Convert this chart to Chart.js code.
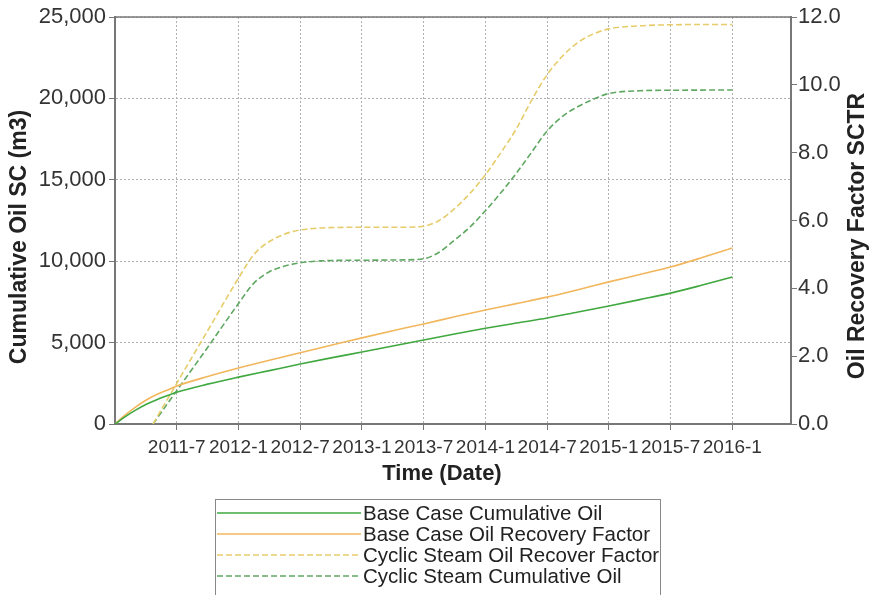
<!DOCTYPE html>
<html>
<head>
<meta charset="utf-8">
<script src="https://cdn.jsdelivr.net/npm/chart.js@4"></script>
<style>
html, body { margin: 0; padding: 0; background: #fff; }
#wrap { position: relative; width: 872px; height: 595px; }
</style>
</head>
<body>
<div id="wrap"><canvas id="c" width="872" height="595"></canvas></div>
<script>
// months counted from 2011-1
var xTickMonths = [6, 12, 18, 24, 30, 36, 42, 48, 54, 60];
var xTickLabels = ['2011-7', '2012-1', '2012-7', '2013-1', '2013-7', '2014-1', '2014-7', '2015-1', '2015-7', '2016-1'];

var baseMonths = [0, 1, 2, 3, 4, 5, 6, 9, 12, 15, 18, 21, 24, 27, 30, 33, 36, 39, 42, 45, 48, 51, 54, 57, 60];
var baseCumOil = [0, 450, 850, 1200, 1480, 1720, 1950, 2450, 2880, 3280, 3680, 4060, 4420, 4790, 5160, 5530, 5880, 6200, 6510, 6880, 7250, 7640, 8040, 8520, 9030];
var baseRecFactor = [0, 0.27, 0.5, 0.7, 0.86, 0.99, 1.12, 1.4, 1.65, 1.88, 2.1, 2.32, 2.54, 2.75, 2.95, 3.16, 3.36, 3.55, 3.74, 3.96, 4.19, 4.41, 4.63, 4.9, 5.19];

var steamMonths = [3.7, 6, 9, 12, 13.5, 15, 16.5, 18, 20, 24, 28, 30, 31.5, 33, 34.5, 36, 37.5, 39, 40.5, 42, 43.5, 45, 46.5, 48, 51, 54, 57, 60];
var steamCumOil = [0, 2050, 4700, 7400, 8650, 9350, 9700, 9900, 10020, 10060, 10080, 10150, 10550, 11300, 12100, 13100, 14200, 15400, 16700, 18000, 18900, 19500, 19950, 20300, 20470, 20500, 20510, 20520];
var steamRecFactor = [0, 1.2, 2.75, 4.3, 5.0, 5.38, 5.6, 5.72, 5.78, 5.8, 5.8, 5.83, 6.0, 6.35, 6.8, 7.35, 8.0, 8.7, 9.55, 10.3, 10.85, 11.25, 11.5, 11.65, 11.74, 11.77, 11.78, 11.78];

var seriesNames = ['Base Case Cumulative Oil', 'Base Case Oil Recovery Factor', 'Cyclic Steam Oil Recover Factor', 'Cyclic Steam Cumulative Oil'];

var FONT = "'Liberation Sans', Arial, sans-serif";

function pts(xs, ys) {
    return xs.map(function (m, i) { return { x: m, y: ys[i] }; });
}

var extras = {
    id: 'extras',
    afterDraw: function (chart) {
        var ctx = chart.ctx;
        var a = chart.chartArea;
        ctx.save();
        // top frame line
        ctx.strokeStyle = '#777';
        ctx.lineWidth = 1.5;
        ctx.beginPath();
        ctx.moveTo(a.left, a.top);
        ctx.lineTo(a.right, a.top);
        ctx.stroke();

        // axis titles
        ctx.fillStyle = '#222';
        ctx.font = 'bold 23px ' + FONT;
        ctx.textAlign = 'center';
        ctx.textBaseline = 'middle';
        ctx.save();
        ctx.translate(20, 237);
        ctx.rotate(-Math.PI / 2);
        ctx.fillText('Cumulative Oil SC (m3)', 0, 0);
        ctx.restore();
        ctx.save();
        ctx.translate(858, 236);
        ctx.rotate(-Math.PI / 2);
        ctx.fillText('Oil Recovery Factor SCTR', 0, 0);
        ctx.restore();
        ctx.font = 'bold 22px ' + FONT;
        ctx.fillText('Time (Date)', 442, 474);

        // legend box
        ctx.strokeStyle = '#888';
        ctx.lineWidth = 1;
        ctx.strokeRect(215.5, 499.5, 445, 130);
        ctx.font = '20.5px ' + FONT;
        ctx.textAlign = 'left';
        chart.data.datasets.forEach(function (ds, i) {
            var y = 513 + i * 21;
            ctx.strokeStyle = ds.borderColor;
            ctx.lineWidth = 1.5;
            ctx.setLineDash(ds.borderDash || []);
            ctx.beginPath();
            ctx.moveTo(217, y);
            ctx.lineTo(361, y);
            ctx.stroke();
            ctx.setLineDash([]);
            ctx.fillStyle = '#222';
            ctx.fillText(ds.label, 363, y + 1);
        });
        ctx.restore();
    }
};

new Chart(document.getElementById('c'), {
    type: 'line',
    data: {
        datasets: [
            { label: seriesNames[0], data: pts(baseMonths, baseCumOil), yAxisID: 'y',
              borderColor: '#3fa83f', borderWidth: 1.6 },
            { label: seriesNames[1], data: pts(baseMonths, baseRecFactor), yAxisID: 'y1',
              borderColor: '#f2b65c', borderWidth: 1.6 },
            { label: seriesNames[2], data: pts(steamMonths, steamRecFactor), yAxisID: 'y1',
              borderColor: '#e6cc6a', borderWidth: 1.6, borderDash: [6, 3] },
            { label: seriesNames[3], data: pts(steamMonths, steamCumOil), yAxisID: 'y',
              borderColor: '#5fa862', borderWidth: 1.6, borderDash: [6, 3] }
        ]
    },
    options: {
        responsive: false,
        animation: false,
        layout: { padding: { left: 37, right: 21, top: 17, bottom: 121 } },
        elements: { point: { radius: 0 }, line: { cubicInterpolationMode: 'monotone' } },
        plugins: { legend: { display: false }, tooltip: { enabled: false } },
        scales: {
            x: {
                type: 'linear', min: 0, max: 65.7,
                afterBuildTicks: function (s) { s.ticks = xTickMonths.map(function (v) { return { value: v }; }); },
                afterFit: function (s) { s.height = 50; },
                ticks: {
                    autoSkip: false, maxRotation: 0, padding: 6, color: '#333',
                    font: { family: FONT, size: 19 },
                    callback: function (v) { return xTickLabels[xTickMonths.indexOf(v)]; }
                },
                grid: { color: '#b0b0b0', tickColor: '#777', tickLength: 6, tickBorderDash: [] },
                border: { color: '#777', width: 2, dash: [2, 2] }
            },
            y: {
                position: 'left', min: 0, max: 25000,
                afterFit: function (s) { s.width = 78; },
                ticks: {
                    stepSize: 5000, padding: 3, color: '#333',
                    font: { family: FONT, size: 22 },
                    callback: function (v) { return v.toLocaleString('en-US'); }
                },
                grid: { color: '#b0b0b0', tickColor: '#777', tickLength: 6, tickBorderDash: [] },
                border: { color: '#777', width: 2, dash: [2, 2] }
            },
            y1: {
                position: 'right', min: 0, max: 12,
                afterFit: function (s) { s.width = 60; },
                ticks: {
                    stepSize: 2, padding: 1, color: '#333',
                    font: { family: FONT, size: 22 },
                    callback: function (v) { return v.toFixed(1); }
                },
                grid: { drawOnChartArea: false, color: '#777', tickLength: 6 },
                border: { color: '#777', width: 2 }
            }
        }
    },
    plugins: [extras]
});
</script>
</body>
</html>
